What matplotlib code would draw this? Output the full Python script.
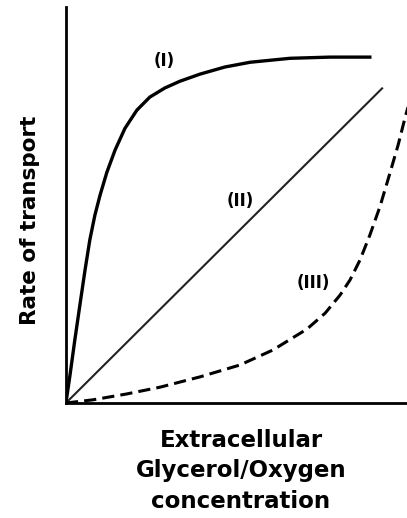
import matplotlib
matplotlib.use("Agg")
import matplotlib.pyplot as plt

# curve (I): saturating carrier-mediated transport
x_i = [0, 0.12, 0.26, 0.41, 0.56, 0.70, 0.85, 1.00, 1.20, 1.44, 1.73,
       2.08, 2.46, 2.90, 3.34, 3.93, 4.66, 5.40, 6.57, 7.74, 8.91]
y_i = [0, 0.71, 1.59, 2.48, 3.36, 4.12, 4.75, 5.25, 5.83, 6.39, 6.94,
       7.40, 7.73, 7.96, 8.13, 8.31, 8.49, 8.61, 8.71, 8.74, 8.74]

# line (II): simple diffusion
x_ii = [0, 9.27]
y_ii = [0, 7.95]

# curve (III): dashed, rising steeply at high concentration
x_iii = [0, 0.79, 1.79, 2.76, 3.93, 5.10, 6.07, 7.07, 7.60, 8.04, 8.33,
         8.62, 8.91, 9.21, 9.50, 9.74, 9.94, 10.15]
y_iii = [0, 0.08, 0.23, 0.40, 0.66, 0.96, 1.34, 1.87, 2.27, 2.73, 3.11,
         3.61, 4.24, 4.97, 5.81, 6.52, 7.20, 7.85]

labels = ["(I)", "(II)", "(III)"]
label_pos = [(2.87, 8.63), (5.10, 5.10), (7.24, 3.03)]

plt.rcParams["font.family"] = ["DejaVu Sans"]

fig = plt.figure(figsize=(4.07, 5.18), dpi=100)
ax = fig.add_axes([0.162, 0.222, 0.838, 0.764])

ax.plot(x_i, y_i, color="black", lw=2.4, solid_joinstyle="round")
ax.plot(x_ii, y_ii, color="#222222", lw=1.5)
ax.plot(x_iii, y_iii, color="black", lw=2.2, dashes=(4, 2))

for lab, (lx, ly) in zip(labels, label_pos):
    ax.text(lx, ly, lab, ha="center", va="center", fontsize=12,
            fontweight="bold")

ax.set_xlim(0, 10)
ax.set_ylim(0, 10)
ax.spines["top"].set_visible(False)
ax.spines["right"].set_visible(False)
ax.spines["left"].set_linewidth(2)
ax.spines["bottom"].set_linewidth(2)
ax.set_xticks([])
ax.set_yticks([])

fig.text(0.074, 0.575, "Rate of transport", rotation=90, ha="center",
         va="center", fontsize=15.5, fontweight="bold")
fig.text(0.592, 0.091, "Extracellular\nGlycerol/Oxygen\nconcentration",
         ha="center", va="center", fontsize=16.5, fontweight="bold",
         linespacing=1.4)

fig.savefig("out.png", dpi=100)
